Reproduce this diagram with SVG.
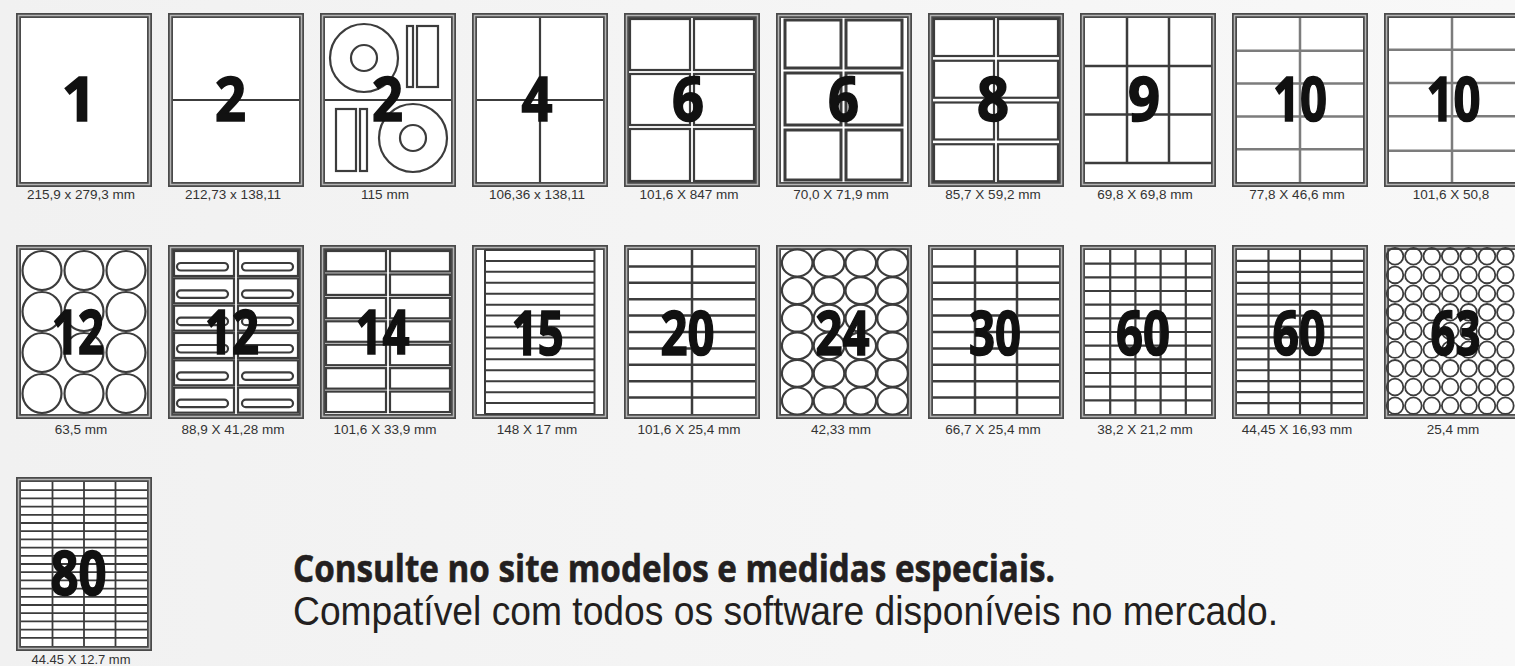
<svg xmlns="http://www.w3.org/2000/svg" width="1515" height="666" viewBox="0 0 1515 666">
<style>
.sh{fill:#fff;stroke:#4a4a4a;stroke-width:5}
.shi{fill:none;stroke:#b4b4b4;stroke-width:1.5}
.ln{fill:none;stroke:#3c3c3c;stroke-width:2.2}
.lg{fill:none;stroke:#7c7c7c;stroke-width:2.5}
.num{font-family:"Open Sans","DejaVu Sans",sans-serif;font-weight:700;font-size:60px;fill:#111;stroke:#111;stroke-width:1.6;text-anchor:middle}
.lbl{font-family:"Liberation Sans",Arial,sans-serif;font-size:13.5px;fill:#333;text-anchor:middle}
</style>
<defs>
<linearGradient id="bg" x1="0" y1="0" x2="1" y2="0">
<stop offset="0" stop-color="#f1f1f1"/>
<stop offset="1" stop-color="#f8f8f8"/>
</linearGradient>
<g id="c12row" class="ln"><circle cx="42" cy="0" r="19.5"/><circle cx="84" cy="0" r="19.5"/><circle cx="126" cy="0" r="19.5"/></g>
<g id="pillrow" class="ln"><rect x="174" y="0" width="60" height="25"/><rect x="238" y="0" width="60" height="25"/><rect x="177" y="12" width="51" height="7.5" rx="3.75"/><rect x="242" y="12" width="51" height="7.5" rx="3.75"/></g>
<g id="r14" class="ln"><rect x="326" y="0" width="60" height="20.5"/><rect x="390" y="0" width="60" height="20.5"/></g>
<g id="c24row" class="ln"><ellipse cx="797.2" cy="0" rx="15.3" ry="13.5"/><ellipse cx="829" cy="0" rx="15.3" ry="13.5"/><ellipse cx="860.8" cy="0" rx="15.3" ry="13.5"/><ellipse cx="892.6" cy="0" rx="15.3" ry="13.5"/></g>
<g id="c63row" style="fill:none;stroke:#3c3c3c;stroke-width:1.8"><circle cx="1395" cy="0" r="8.3"/><circle cx="1413.4" cy="0" r="8.3"/><circle cx="1431.8" cy="0" r="8.3"/><circle cx="1450.2" cy="0" r="8.3"/><circle cx="1468.6" cy="0" r="8.3"/><circle cx="1487" cy="0" r="8.3"/><circle cx="1505.4" cy="0" r="8.3"/></g>
</defs>
<rect x="0" y="0" width="1515" height="666" fill="url(#bg)"/>

<g id="sheet-1">
<rect class="sh" x="18.5" y="15.5" width="131" height="169"/><rect class="shi" x="18.5" y="15.5" width="131" height="169"/>
<text class="num" x="79" y="121">1</text>
<text class="lbl" x="81" y="199">215,9 x 279,3 mm</text>
</g>
<g id="sheet-2">
<rect class="sh" x="170.5" y="15.5" width="131" height="169"/><rect class="shi" x="170.5" y="15.5" width="131" height="169"/>
<path class="ln" d="M173 100H299"/>
<text class="num" x="230.5" y="121" textLength="31" lengthAdjust="spacingAndGlyphs">2</text>
<text class="lbl" x="233" y="199">212,73 x 138,11</text>
</g>
<g id="sheet-3">
<rect class="sh" x="322.5" y="15.5" width="131" height="169"/><rect class="shi" x="322.5" y="15.5" width="131" height="169"/>
<g class="ln">
<path d="M325 100H451"/>
<circle cx="364" cy="58" r="34"/><circle cx="364" cy="58" r="13"/>
<rect x="407" y="26" width="6" height="61"/><rect x="417" y="26" width="21" height="61"/>
<circle cx="413" cy="138" r="34"/><circle cx="413" cy="138" r="13"/>
<rect x="336" y="109" width="20" height="62"/><rect x="360" y="109" width="7" height="62"/>
</g>
<text class="num" x="387.5" y="121" textLength="31" lengthAdjust="spacingAndGlyphs">2</text>
<text class="lbl" x="385" y="199">115 mm</text>
</g>
<g id="sheet-4">
<rect class="sh" x="474.5" y="15.5" width="131" height="169"/><rect class="shi" x="474.5" y="15.5" width="131" height="169"/>
<path class="ln" d="M540 18V182M477 100H603"/>
<text class="num" x="537" y="121" textLength="31" lengthAdjust="spacingAndGlyphs">4</text>
<text class="lbl" x="537" y="199">106,36 x 138,11</text>
</g>
<g id="sheet-5">
<rect class="sh" x="626.5" y="15.5" width="131" height="169"/><rect class="shi" x="626.5" y="15.5" width="131" height="169"/>
<g class="ln"><rect x="630" y="19" width="60" height="51"/><rect x="694" y="19" width="60" height="51"/><rect x="630" y="74" width="60" height="51"/><rect x="694" y="74" width="60" height="51"/><rect x="630" y="129" width="60" height="52"/><rect x="694" y="129" width="60" height="52"/></g>
<text class="num" x="688" y="121" textLength="32" lengthAdjust="spacingAndGlyphs">6</text>
<text class="lbl" x="689" y="199">101,6 X 847 mm</text>
</g>
<g id="sheet-6">
<rect class="sh" x="778.5" y="15.5" width="131" height="169"/><rect class="shi" x="778.5" y="15.5" width="131" height="169"/>
<g class="ln" style="stroke-width:3"><rect x="785" y="20" width="56" height="48"/><rect x="846" y="20" width="56" height="48"/><rect x="785" y="73" width="56" height="52"/><rect x="846" y="73" width="56" height="52"/><rect x="785" y="130" width="56" height="50"/><rect x="846" y="130" width="56" height="50"/></g>
<text class="num" x="843.5" y="121" textLength="31" lengthAdjust="spacingAndGlyphs">6</text>
<text class="lbl" x="841" y="199">70,0 X 71,9 mm</text>
</g>
<g id="sheet-7">
<rect class="sh" x="930.5" y="15.5" width="131" height="169"/><rect class="shi" x="930.5" y="15.5" width="131" height="169"/>
<g class="ln"><rect x="934" y="19" width="60" height="37"/><rect x="998" y="19" width="60" height="37"/><rect x="934" y="60.75" width="60" height="37"/><rect x="998" y="60.75" width="60" height="37"/><rect x="934" y="102.5" width="60" height="37"/><rect x="998" y="102.5" width="60" height="37"/><rect x="934" y="144.25" width="60" height="37"/><rect x="998" y="144.25" width="60" height="37"/></g>
<text class="num" x="993" y="121" textLength="32" lengthAdjust="spacingAndGlyphs">8</text>
<text class="lbl" x="993" y="199">85,7 X 59,2 mm</text>
</g>
<g id="sheet-8">
<rect class="sh" x="1082.5" y="15.5" width="131" height="169"/><rect class="shi" x="1082.5" y="15.5" width="131" height="169"/>
<path class="ln" style="stroke-width:2.5" d="M1127 18V163M1169 18V163M1085 66H1211M1085 114.5H1211M1085 163H1211"/>
<text class="num" x="1144" y="121" textLength="32" lengthAdjust="spacingAndGlyphs">9</text>
<text class="lbl" x="1145" y="199">69,8 X 69,8 mm</text>
</g>
<g id="sheet-9">
<rect class="sh" x="1234.5" y="15.5" width="131" height="169"/><rect class="shi" x="1234.5" y="15.5" width="131" height="169"/>
<path class="lg" d="M1300 18V182M1237 50.8H1363M1237 83.6H1363M1237 116.4H1363M1237 149.2H1363"/>
<text class="num" x="1300" y="121" textLength="54" lengthAdjust="spacingAndGlyphs">10</text>
<text class="lbl" x="1297" y="199">77,8 X 46,6 mm</text>
</g>
<g id="sheet-10">
<rect class="sh" x="1386.5" y="15.5" width="131" height="169"/><rect class="shi" x="1386.5" y="15.5" width="131" height="169"/>
<path class="lg" d="M1452 18V182M1389 49.7H1515M1389 83H1515M1389 116.3H1515M1389 150.7H1515"/>
<text class="num" x="1453.5" y="121" textLength="54" lengthAdjust="spacingAndGlyphs">10</text>
<text class="lbl" x="1451" y="199">101,6 X 50,8</text>
</g>

<g id="sheet-11">
<rect class="sh" x="18.5" y="247.5" width="131" height="169"/><rect class="shi" x="18.5" y="247.5" width="131" height="169"/>
<use href="#c12row" y="270.5"/><use href="#c12row" y="311.5"/><use href="#c12row" y="352.5"/><use href="#c12row" y="393.5"/>
<text class="num" x="78" y="354" textLength="52" lengthAdjust="spacingAndGlyphs">12</text>
<text class="lbl" x="81" y="434">63,5 mm</text>
</g>
<g id="sheet-12">
<rect class="sh" x="170.5" y="247.5" width="131" height="169"/><rect class="shi" x="170.5" y="247.5" width="131" height="169"/>
<use href="#pillrow" y="251"/><use href="#pillrow" y="278.33"/><use href="#pillrow" y="305.67"/><use href="#pillrow" y="333"/><use href="#pillrow" y="360.33"/><use href="#pillrow" y="387.67"/>
<text class="num" x="232" y="354" textLength="54" lengthAdjust="spacingAndGlyphs">12</text>
<text class="lbl" x="233" y="434">88,9 X 41,28 mm</text>
</g>
<g id="sheet-13">
<rect class="sh" x="322.5" y="247.5" width="131" height="169"/><rect class="shi" x="322.5" y="247.5" width="131" height="169"/>
<use href="#r14" y="251"/><use href="#r14" y="274.43"/><use href="#r14" y="297.86"/><use href="#r14" y="321.29"/><use href="#r14" y="344.71"/><use href="#r14" y="368.14"/><use href="#r14" y="391.57"/>
<text class="num" x="382.5" y="354" textLength="54" lengthAdjust="spacingAndGlyphs">14</text>
<text class="lbl" x="385" y="434">101,6 X 33,9 mm</text>
</g>
<g id="sheet-14">
<rect class="sh" x="474.5" y="247.5" width="131" height="169"/><rect class="shi" x="474.5" y="247.5" width="131" height="169"/>
<path class="ln" style="stroke-width:2" d="M485 250V414M594.5 250V414M485 250H594.5M485 260.93H594.5M485 271.87H594.5M485 282.8H594.5M485 293.73H594.5M485 304.67H594.5M485 315.6H594.5M485 326.53H594.5M485 337.47H594.5M485 348.4H594.5M485 359.33H594.5M485 370.27H594.5M485 381.2H594.5M485 392.13H594.5M485 403.07H594.5M485 414H594.5"/>
<text class="num" x="537.7" y="355" textLength="52" lengthAdjust="spacingAndGlyphs">15</text>
<text class="lbl" x="537" y="434">148 X 17 mm</text>
</g>
<g id="sheet-15">
<rect class="sh" x="626.5" y="247.5" width="131" height="169"/><rect class="shi" x="626.5" y="247.5" width="131" height="169"/>
<path class="ln" style="stroke-width:2.5" d="M692 250V414M629 266.4H755M629 282.8H755M629 299.2H755M629 315.6H755M629 332H755M629 348.4H755M629 364.8H755M629 381.2H755M629 397.6H755"/>
<text class="num" x="687.5" y="355" textLength="54" lengthAdjust="spacingAndGlyphs">20</text>
<text class="lbl" x="689" y="434">101,6 X 25,4 mm</text>
</g>
<g id="sheet-16">
<rect class="sh" x="778.5" y="247.5" width="131" height="169"/><rect class="shi" x="778.5" y="247.5" width="131" height="169"/>
<use href="#c24row" y="263"/><use href="#c24row" y="290.6"/><use href="#c24row" y="318.2"/><use href="#c24row" y="345.8"/><use href="#c24row" y="373.4"/><use href="#c24row" y="401"/>
<text class="num" x="842.5" y="355" textLength="54" lengthAdjust="spacingAndGlyphs">24</text>
<text class="lbl" x="841" y="434">42,33 mm</text>
</g>
<g id="sheet-17">
<rect class="sh" x="930.5" y="247.5" width="131" height="169"/><rect class="shi" x="930.5" y="247.5" width="131" height="169"/>
<path class="ln" style="stroke-width:2.5" d="M975 250V414M1017 250V414M933 266.4H1059M933 282.8H1059M933 299.2H1059M933 315.6H1059M933 332H1059M933 348.4H1059M933 364.8H1059M933 381.2H1059M933 397.6H1059"/>
<text class="num" x="995" y="355" textLength="52" lengthAdjust="spacingAndGlyphs">30</text>
<text class="lbl" x="993" y="434">66,7 X 25,4 mm</text>
</g>
<g id="sheet-18">
<rect class="sh" x="1082.5" y="247.5" width="131" height="169"/><rect class="shi" x="1082.5" y="247.5" width="131" height="169"/>
<path class="ln" d="M1110.2 250V414M1135.4 250V414M1160.6 250V414M1185.8 250V414M1085 263.67H1211M1085 277.33H1211M1085 291H1211M1085 304.67H1211M1085 318.33H1211M1085 332H1211M1085 345.67H1211M1085 359.33H1211M1085 373H1211M1085 386.67H1211M1085 400.33H1211"/>
<text class="num" x="1143" y="355" textLength="54" lengthAdjust="spacingAndGlyphs">60</text>
<text class="lbl" x="1145" y="434">38,2 X 21,2 mm</text>
</g>
<g id="sheet-19">
<rect class="sh" x="1234.5" y="247.5" width="131" height="169"/><rect class="shi" x="1234.5" y="247.5" width="131" height="169"/>
<path class="ln" d="M1268.5 250V414M1300 250V414M1331.5 250V414M1237 260.93H1363M1237 271.87H1363M1237 282.8H1363M1237 293.73H1363M1237 304.67H1363M1237 315.6H1363M1237 326.53H1363M1237 337.47H1363M1237 348.4H1363M1237 359.33H1363M1237 370.27H1363M1237 381.2H1363M1237 392.13H1363M1237 403.07H1363"/>
<text class="num" x="1299" y="355" textLength="53" lengthAdjust="spacingAndGlyphs">60</text>
<text class="lbl" x="1297" y="434">44,45 X 16,93 mm</text>
</g>
<g id="sheet-20">
<rect class="sh" x="1386.5" y="247.5" width="131" height="169"/><rect class="shi" x="1386.5" y="247.5" width="131" height="169"/>
<use href="#c63row" y="256.3"/><use href="#c63row" y="274.97"/><use href="#c63row" y="293.64"/><use href="#c63row" y="312.31"/><use href="#c63row" y="330.98"/><use href="#c63row" y="349.65"/><use href="#c63row" y="368.32"/><use href="#c63row" y="386.99"/><use href="#c63row" y="405.66"/>
<text class="num" x="1455.5" y="355" textLength="50" lengthAdjust="spacingAndGlyphs">63</text>
<text class="lbl" x="1453" y="434">25,4 mm</text>
</g>

<g id="sheet-21">
<rect class="sh" x="18.5" y="479.5" width="131" height="169"/><rect class="shi" x="18.5" y="479.5" width="131" height="169"/>
<path class="ln" style="stroke-width:1.8" d="M52.5 482V646M84 482V646M115.5 482V646M21 490.2H147M21 498.4H147M21 506.6H147M21 514.8H147M21 523H147M21 531.2H147M21 539.4H147M21 547.6H147M21 555.8H147M21 564H147M21 572.2H147M21 580.4H147M21 588.6H147M21 596.8H147M21 605H147M21 613.2H147M21 621.4H147M21 629.6H147M21 637.8H147"/>
<text class="num" x="78.5" y="595" textLength="56" lengthAdjust="spacingAndGlyphs">80</text>
<text class="lbl" x="81" y="664" style="font-size:13px">44.45 X 12.7 mm</text>
</g>

<g id="note">
<text x="293" y="582" font-family="'Open Sans','DejaVu Sans',sans-serif" font-weight="700" font-size="37" fill="#231f20" stroke="#231f20" stroke-width="0.6" textLength="762" lengthAdjust="spacingAndGlyphs">Consulte no site modelos e medidas especiais.</text>
<text x="293" y="625" font-family="'Liberation Sans',Arial,sans-serif" font-size="40" fill="#231f20" textLength="985" lengthAdjust="spacingAndGlyphs">Compatível com todos os software disponíveis no mercado.</text>
</g>
</svg>
